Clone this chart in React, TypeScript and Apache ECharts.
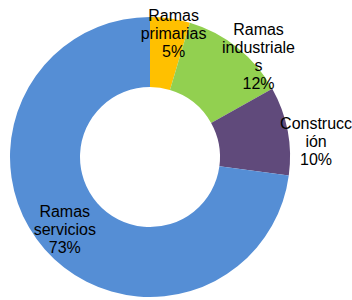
import React, { useEffect, useRef } from "react";
import * as echarts from "echarts";

const categories = ["Ramas primarias", "Ramas industriales", "Construcción", "Ramas servicios"];
const labelTexts = ["Ramas\nprimarias", "Ramas\nindustriale\ns", "Construcc\nión", "Ramas\nservicios"];
const values = [4.6, 12.3, 10.2, 72.9];
const colors = ["#FFC000", "#92D050", "#604A7B", "#558ED5"];
const labelOffsets: [number, number][] = [[8, -17], [41, -16], [60, 5], [-4, 1]];

export default function App() {
  const ref = useRef<HTMLDivElement>(null);
  useEffect(() => {
    if (!ref.current) return;
    const chart = echarts.init(ref.current, null, { renderer: "svg" });
    const total = values.reduce((a, b) => a + b, 0);
    chart.setOption({
      animation: false,
      series: [
        {
          type: "pie",
          center: [150, 157],
          radius: [70, 140],
          startAngle: 90,
          clockwise: true,
          avoidLabelOverlap: false,
          labelLine: { show: false },
          data: categories.map((name, i) => ({
            name,
            value: values[i],
            itemStyle: { color: colors[i], borderWidth: 0 },
            label: {
              show: true,
              position: "inside",
              offset: labelOffsets[i],
              formatter: () => `${labelTexts[i]}\n${Math.round((values[i] / total) * 100)}%`,
              fontFamily: "Liberation Sans",
              fontSize: 16,
              lineHeight: 18,
              color: "#000000",
              align: "center",
              textBorderWidth: 0,
            },
          })),
        },
      ],
    });
    return () => chart.dispose();
  }, []);
  return (
    <div
      ref={ref}
      style={{ position: "fixed", left: 0, top: 0, width: 352, height: 300, background: "#ffffff" }}
    />
  );
}
